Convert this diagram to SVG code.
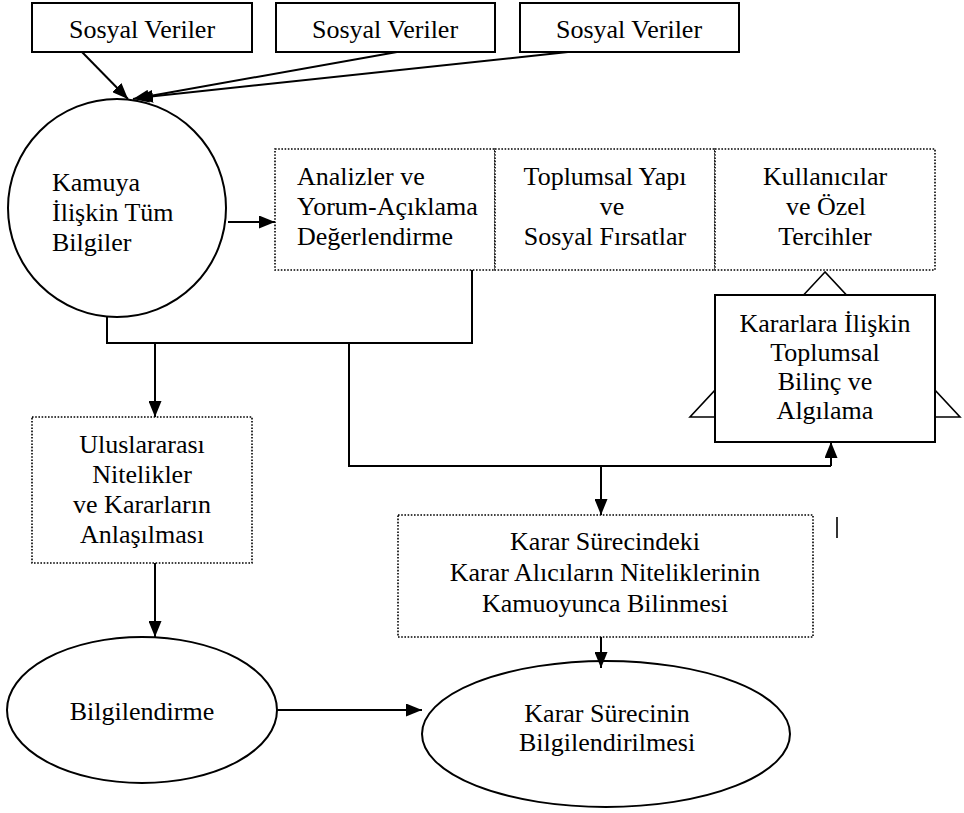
<svg xmlns="http://www.w3.org/2000/svg" width="964" height="813" viewBox="0 0 964 813">
  <defs>
    <style>
      .solid { fill: #fff; stroke: #000; stroke-width: 2; }
      .dotted { fill: #fff; stroke: #000; stroke-width: 1.6; stroke-dasharray: 1.6 1.6; }
      .line { fill: none; stroke: #000; stroke-width: 2; }
      .arrow { fill: none; stroke: #000; stroke-width: 2; marker-end: url(#head); }
      .c { text-anchor: middle; }
    </style>
    <marker id="head" markerUnits="userSpaceOnUse" markerWidth="16" markerHeight="13" refX="16" refY="6.5" orient="auto" viewBox="0 0 16 13">
      <path d="M0,0 L16,6.5 L0,13 z" fill="#000"/>
    </marker>
  </defs>

  <g font-family="'Liberation Serif', 'DejaVu Serif', 'Times New Roman', serif" font-size="26" fill="#000">
  <!-- social data sources -->
  <g id="sosyal1">
    <rect class="solid" x="32" y="3" width="220" height="49"/>
    <text class="c" x="142" y="38">Sosyal Veriler</text>
  </g>
  <g id="sosyal2">
    <rect class="solid" x="276" y="3" width="219" height="49"/>
    <text class="c" x="385" y="38">Sosyal Veriler</text>
  </g>
  <g id="sosyal3">
    <rect class="solid" x="520" y="3" width="219" height="49"/>
    <text class="c" x="629" y="38">Sosyal Veriler</text>
  </g>

  <!-- public information -->
  <g id="kamuya">
    <circle class="solid" cx="117" cy="208" r="109"/>
    <text x="52" y="191">Kamuya</text>
    <text x="52" y="221">İlişkin Tüm</text>
    <text x="52" y="251">Bilgiler</text>
  </g>

  <g id="analizler">
    <rect class="dotted" x="275" y="149" width="220" height="121"/>
    <text x="297" y="185">Analizler ve</text>
    <text x="297" y="215">Yorum-Açıklama</text>
    <text x="297" y="245">Değerlendirme</text>
  </g>

  <g id="toplumsal">
    <rect class="dotted" x="495" y="149" width="220" height="121"/>
    <text class="c" x="605" y="185">Toplumsal Yapı</text>
    <text class="c" x="612" y="215">ve</text>
    <text class="c" x="605" y="245">Sosyal Fırsatlar</text>
  </g>

  <g id="kullanicilar">
    <rect class="dotted" x="715" y="149" width="220" height="121"/>
    <text class="c" x="825" y="185">Kullanıcılar</text>
    <text class="c" x="826" y="215">ve Özel</text>
    <text class="c" x="825" y="245">Tercihler</text>
  </g>

  <!-- awareness box sitting on a triangle -->
  <g id="kararlara">
    <polygon points="825,272 690,417 960,417" fill="#fff" stroke="#000" stroke-width="1.6"/>
    <rect class="solid" x="715" y="295" width="220" height="147"/>
    <text class="c" x="825" y="332">Kararlara İlişkin</text>
    <text class="c" x="825" y="361">Toplumsal</text>
    <text class="c" x="825" y="390">Bilinç ve</text>
    <text class="c" x="825" y="419">Algılama</text>
  </g>

  <g id="uluslararasi">
    <rect class="dotted" x="32" y="417" width="220" height="146"/>
    <text class="c" x="142" y="453">Uluslararası</text>
    <text class="c" x="142" y="483">Nitelikler</text>
    <text class="c" x="142" y="513">ve Kararların</text>
    <text class="c" x="142" y="543">Anlaşılması</text>
  </g>

  <g id="karar-surecindeki">
    <rect class="dotted" x="398" y="515" width="415" height="122"/>
    <text class="c" x="605" y="550">Karar Sürecindeki</text>
    <text class="c" x="605" y="581">Karar Alıcıların Niteliklerinin</text>
    <text class="c" x="605" y="612">Kamuoyunca Bilinmesi</text>
  </g>

  <g id="bilgilendirme">
    <ellipse class="solid" cx="142" cy="710" rx="135" ry="73"/>
    <text class="c" x="142" y="720">Bilgilendirme</text>
  </g>

  <g id="karar-sureci">
    <ellipse class="solid" cx="606" cy="734" rx="184" ry="73"/>
    <text class="c" x="607" y="722">Karar Sürecinin</text>
    <text class="c" x="607" y="751">Bilgilendirilmesi</text>
  </g>
  </g>

  <!-- short vertical stroke right of the lower box -->
  <line x1="837" y1="517" x2="837" y2="538" stroke="#000" stroke-width="1.6"/>

  <g id="connectors">
    <line class="arrow" x1="82" y1="52" x2="128" y2="99"/>
    <line class="arrow" x1="397" y1="52" x2="133" y2="99"/>
    <line class="arrow" x1="568" y1="52" x2="137" y2="98"/>
    <line class="arrow" x1="228" y1="222" x2="275" y2="222"/>
    <polyline class="line" points="107,316 107,343 472,343 472,270"/>
    <line class="arrow" x1="155" y1="343" x2="155" y2="417"/>
    <polyline class="line" points="349,343 349,466 831,466"/>
    <line class="arrow" x1="601" y1="466" x2="601" y2="515"/>
    <line class="arrow" x1="831" y1="466" x2="831" y2="442"/>
    <line class="arrow" x1="155" y1="563" x2="155" y2="637"/>
    <line class="arrow" x1="601" y1="637" x2="601" y2="668"/>
    <line class="arrow" x1="277" y1="710" x2="422" y2="710"/>
  </g>
</svg>
